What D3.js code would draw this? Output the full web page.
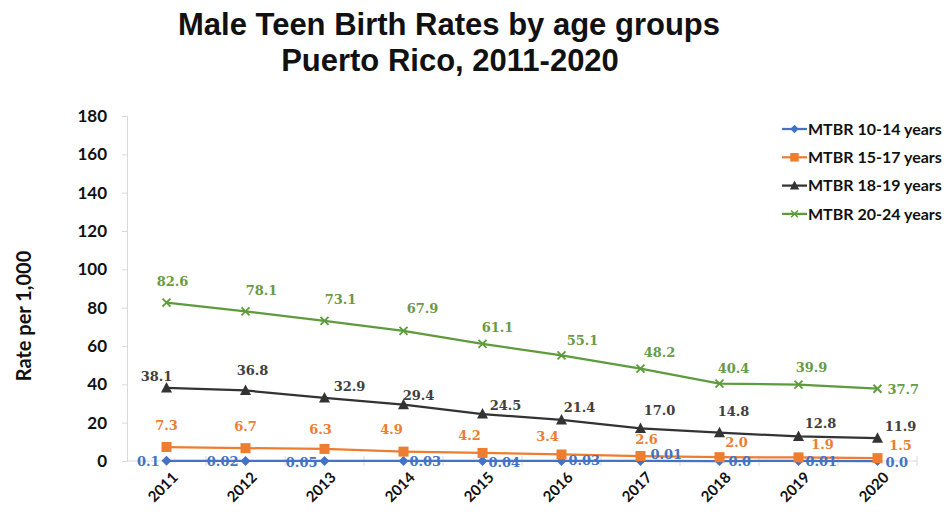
<!DOCTYPE html>
<html>
<head>
<meta charset="utf-8">
<script src="https://cdn.jsdelivr.net/npm/d3@7"></script>
<style>
  html, body { margin: 0; padding: 0; background: #fff; }
  svg { display: block; }
</style>
</head>
<body>
<svg id="chart" width="945" height="512"></svg>
<script>
// Male teen birth rates per 1,000, Puerto Rico
const years = ["2011","2012","2013","2014","2015","2016","2017","2018","2019","2020"];
const rates10to14 = [0.1, 0.02, 0.05, 0.03, 0.04, 0.03, 0.01, 0.0, 0.01, 0.0];
const rates15to17 = [7.3, 6.7, 6.3, 4.9, 4.2, 3.4, 2.6, 2.0, 1.9, 1.5];
const rates18to19 = [38.1, 36.8, 32.9, 29.4, 24.5, 21.4, 17.0, 14.8, 12.8, 11.9];
const rates20to24 = [82.6, 78.1, 73.1, 67.9, 61.1, 55.1, 48.2, 40.4, 39.9, 37.7];
const labels10to14 = ["0.1","0.02","0.05","0.03","0.04","0.03","0.01","0.0","0.01","0.0"];
const seriesNames = ["MTBR 10-14 years","MTBR 15-17 years","MTBR 18-19 years","MTBR 20-24 years"];
const yTicks = [0, 20, 40, 60, 80, 100, 120, 140, 160, 180];

// Label offsets (dx, dy, anchor) per point so text clears the lines
const off10 = [[-7,5,"end"],[-7,5,"end"],[-7,6,"end"],[6,5,"start"],[6,6,"start"],[7,4,"start"],[10,-2,"start"],[9,5,"start"],[7,5,"start"],[8,6,"start"]];
const off15 = [[0,-17,"middle"],[0,-17,"middle"],[-4,-15,"middle"],[-12,-18,"middle"],[-13,-13,"middle"],[-14,-13,"middle"],[6,-12,"middle"],[17,-10,"middle"],[24,-8,"middle"],[23,-8,"middle"]];
const off18 = [[-10,-7,"middle"],[7,-15,"middle"],[25,-7,"middle"],[15,-5,"middle"],[23,-4,"middle"],[18,-8,"middle"],[19,-13,"middle"],[14,-17,"middle"],[22,-8,"middle"],[23,-7,"middle"]];
const off20 = [[6,-17,"middle"],[16,-16,"middle"],[16,-17,"middle"],[19,-18,"middle"],[15,-12,"middle"],[21,-10,"middle"],[19,-12,"middle"],[14,-11,"middle"],[13,-13,"middle"],[10,5,"start"]];

const series = [
  { name: seriesNames[0], values: rates10to14, labels: labels10to14, offs: off10, color: "#4472C4", text: "#4472C4", marker: "diamond" },
  { name: seriesNames[1], values: rates15to17, labels: rates15to17.map(v => v.toFixed(1)), offs: off15, color: "#ED7D31", text: "#ED7D31", marker: "square" },
  { name: seriesNames[2], values: rates18to19, labels: rates18to19.map(v => v.toFixed(1)), offs: off18, color: "#333333", text: "#404040", marker: "triangle" },
  { name: seriesNames[3], values: rates20to24, labels: rates20to24.map(v => v.toFixed(1)), offs: off20, color: "#5E9B3C", text: "#6A9A46", marker: "x" }
];

const svg = d3.select("#chart");
const plot = { left: 127, right: 917, top: 116, bottom: 461 };

const x = d3.scaleBand().domain(years).range([plot.left, plot.right]);
const y = d3.scaleLinear().domain([0, 180]).range([plot.bottom, plot.top]);
const cx = d => x(d) + x.bandwidth() / 2;

// Title
const title = svg.append("text")
  .attr("text-anchor", "middle")
  .style("font-family", "Liberation Sans, Arial, sans-serif")
  .style("font-weight", "bold").style("font-size", "31px").style("fill", "#111");
title.append("tspan").attr("x", 449).attr("y", 35).text("Male Teen Birth Rates by age groups");
title.append("tspan").attr("x", 450).attr("y", 71).text("Puerto Rico, 2011-2020");

// Y axis
const yAxis = svg.append("g").attr("transform", `translate(${plot.left},0)`)
  .call(d3.axisLeft(y).tickValues(yTicks).tickSize(5).tickPadding(15));
yAxis.select(".domain").attr("stroke", "#D9D9D9");
yAxis.selectAll(".tick line").attr("stroke", "#D9D9D9");
yAxis.selectAll(".tick text")
  .style("font-family", "Lato, Carlito, Calibri, sans-serif")
  .style("font-weight", "bold").style("font-size", "17px").style("fill", "#111");

// Y axis title
svg.append("text")
  .attr("transform", "translate(31,316) rotate(-90)")
  .attr("text-anchor", "middle")
  .style("font-family", "Lato, Carlito, Calibri, sans-serif")
  .style("font-weight", "bold").style("font-size", "20px").style("fill", "#111")
  .text("Rate per 1,000");

// X axis with cross ticks at category boundaries
const xAxis = svg.append("g").attr("transform", `translate(0,${plot.bottom})`);
xAxis.append("line").attr("x1", plot.left).attr("x2", plot.right)
  .attr("stroke", "#D9D9D9");
xAxis.selectAll("line.tk").data(years.slice(1).concat(["end"]))
  .join("line").attr("class", "tk")
  .attr("x1", (d, i) => i < years.length - 1 ? x(d) : plot.right)
  .attr("x2", (d, i) => i < years.length - 1 ? x(d) : plot.right)
  .attr("y1", -5).attr("y2", 5).attr("stroke", "#D9D9D9");
xAxis.selectAll("text").data(years).join("text")
  .attr("transform", d => `translate(${cx(d) + 5},${10}) rotate(-45)`)
  .attr("text-anchor", "end").attr("dy", "0.7em")
  .style("font-family", "Lato, Carlito, Calibri, sans-serif")
  .style("font-weight", "bold").style("font-size", "15px").style("fill", "#111")
  .text(d => d);

// Marker drawing
function drawMarker(g, type, color) {
  if (type === "diamond") {
    g.append("path").attr("d", "M0,-5L5,0L0,5L-5,0Z").attr("fill", color);
  } else if (type === "square") {
    g.append("rect").attr("x", -5).attr("y", -5).attr("width", 10).attr("height", 10).attr("fill", color);
  } else if (type === "triangle") {
    g.append("path").attr("d", "M0,-6L5.5,4.5L-5.5,4.5Z").attr("fill", color);
  } else {
    g.append("path").attr("d", "M-4,-4L4,4M-4,4L4,-4").attr("stroke", color).attr("stroke-width", 1.8).attr("fill", "none");
  }
}

const line = d3.line().x((d, i) => cx(years[i])).y(d => y(d));

series.forEach(s => {
  const g = svg.append("g");
  g.append("path").datum(s.values).attr("d", line)
    .attr("fill", "none").attr("stroke", s.color).attr("stroke-width", 2.25);
  s.values.forEach((v, i) => {
    const m = g.append("g").attr("transform", `translate(${cx(years[i])},${y(v)})`);
    drawMarker(m, s.marker, s.color);
  });
});

// Data labels drawn last so they sit over the lines
series.forEach(s => {
  svg.append("g").selectAll("text").data(s.values).join("text")
    .attr("x", (v, i) => cx(years[i]) + s.offs[i][0])
    .attr("y", (v, i) => y(v) + s.offs[i][1])
    .attr("text-anchor", (v, i) => s.offs[i][2])
    .style("font-family", "DejaVu Serif, Cambria, serif")
    .style("font-weight", "bold").style("font-size", "13px").style("fill", s.text)
    .text((v, i) => s.labels[i]);
});

// Legend
const legend = svg.append("g").attr("transform", "translate(782,129)");
series.forEach((s, i) => {
  const row = legend.append("g").attr("transform", `translate(0,${i * 28.3})`);
  row.append("line").attr("x1", 0).attr("x2", 25).attr("stroke", s.color).attr("stroke-width", 2.25);
  const m = row.append("g").attr("transform", "translate(12.5,0) scale(0.85)");
  drawMarker(m, s.marker, s.color);
  row.append("text").attr("x", 26).attr("y", 0).attr("dy", "0.35em")
    .style("font-family", "Lato, Carlito, Calibri, sans-serif")
    .style("font-weight", "bold").style("font-size", "16px").style("fill", "#111")
    .text(s.name);
});
</script>
</body>
</html>
